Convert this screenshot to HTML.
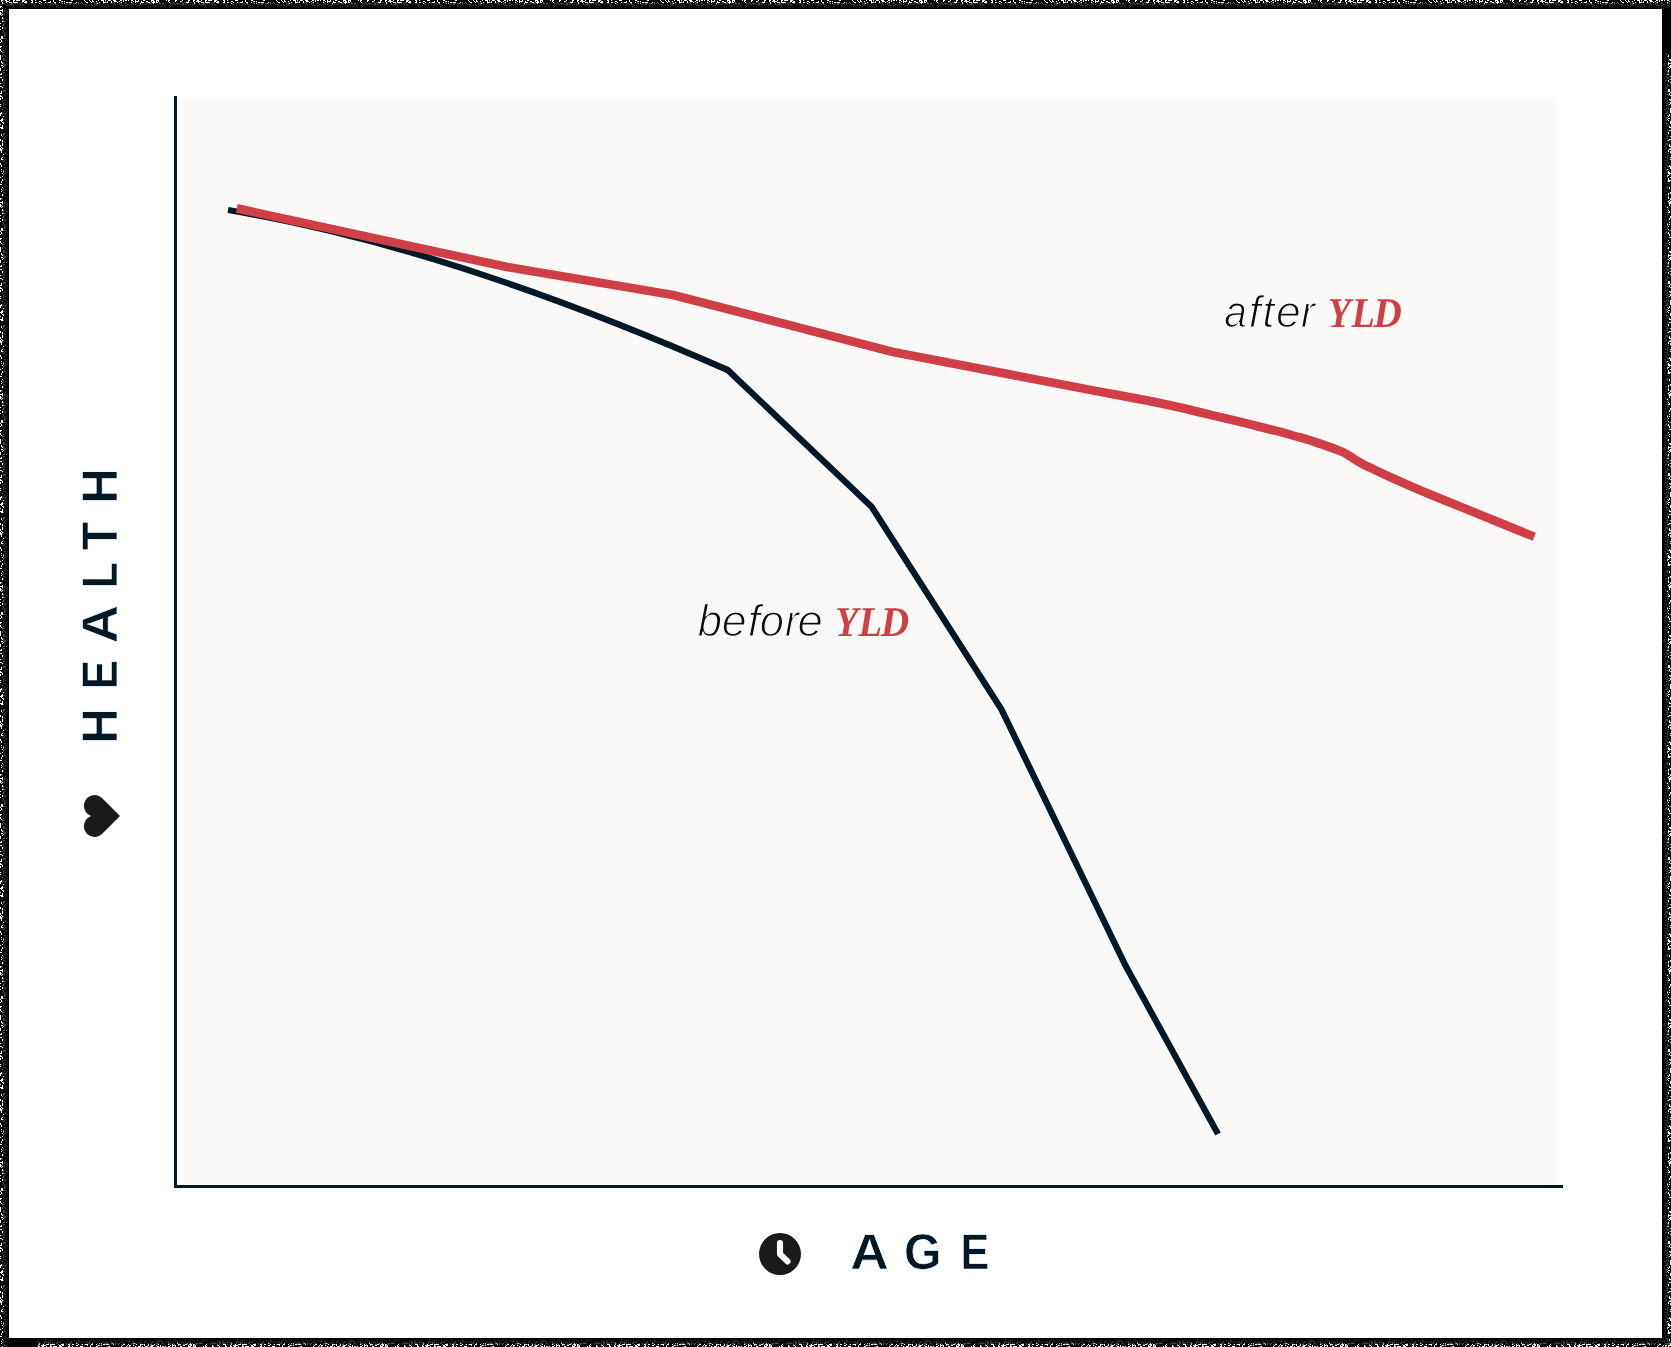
<!DOCTYPE html>
<html>
<head>
<meta charset="utf-8">
<title>Health vs Age</title>
<style>
html,body{margin:0;padding:0;background:#fff;}
body{width:1671px;height:1347px;position:relative;overflow:hidden;font-family:"Liberation Sans",sans-serif;}
#chart{position:absolute;left:0;top:0;width:1671px;height:1347px;display:block;will-change:transform;}
#chart text{font-kerning:none;text-rendering:geometricPrecision;}
.title{font-family:"Liberation Sans",sans-serif;font-weight:700;font-size:50.27px;fill:#011826;stroke:#fff;stroke-width:0.6px;}
.lt{font-family:"Liberation Sans",sans-serif;font-style:italic;font-weight:400;font-size:44.6px;fill:#0b0b0b;stroke:#fbfaf9;stroke-width:1.2px;}
.yld{font-family:"Liberation Serif",serif;font-style:italic;font-weight:700;font-size:42.45px;fill:#d03e46;}
</style>
</head>
<body>
<svg id="chart" width="1671" height="1347" viewBox="0 0 1671 1347">
<defs><pattern id="nh" width="192" height="9" patternUnits="userSpaceOnUse"><rect x="1" y="0" width="2" height="1" fill="#fff"/><rect x="5" y="0" width="2" height="1" fill="#fff"/><rect x="9" y="0" width="1" height="1" fill="#fff"/><rect x="13" y="0" width="2" height="1" fill="#fff"/><rect x="16" y="0" width="2" height="1" fill="#fff"/><rect x="18" y="0" width="2" height="1" fill="#fff"/><rect x="22" y="0" width="3" height="1" fill="#fff"/><rect x="31" y="0" width="2" height="1" fill="#fff"/><rect x="35" y="0" width="1" height="1" fill="#fff"/><rect x="43" y="0" width="3" height="1" fill="#fff"/><rect x="53" y="0" width="1" height="1" fill="#fff"/><rect x="59" y="0" width="2" height="1" fill="#fff"/><rect x="71" y="0" width="2" height="1" fill="#fff"/><rect x="84" y="0" width="1" height="1" fill="#fff"/><rect x="89" y="0" width="1" height="1" fill="#fff"/><rect x="92" y="0" width="1" height="1" fill="#fff"/><rect x="98" y="0" width="1" height="1" fill="#fff"/><rect x="101" y="0" width="3" height="1" fill="#fff"/><rect x="105" y="0" width="1" height="1" fill="#fff"/><rect x="108" y="0" width="3" height="1" fill="#fff"/><rect x="113" y="0" width="3" height="1" fill="#fff"/><rect x="120" y="0" width="2" height="1" fill="#fff"/><rect x="123" y="0" width="1" height="1" fill="#fff"/><rect x="125" y="0" width="2" height="1" fill="#fff"/><rect x="128" y="0" width="1" height="1" fill="#fff"/><rect x="131" y="0" width="1" height="1" fill="#fff"/><rect x="132" y="0" width="1" height="1" fill="#fff"/><rect x="135" y="0" width="1" height="1" fill="#fff"/><rect x="138" y="0" width="1" height="1" fill="#fff"/><rect x="143" y="0" width="2" height="1" fill="#fff"/><rect x="151" y="0" width="3" height="1" fill="#fff"/><rect x="156" y="0" width="3" height="1" fill="#fff"/><rect x="166" y="0" width="1" height="1" fill="#fff"/><rect x="168" y="0" width="2" height="1" fill="#fff"/><rect x="175" y="0" width="2" height="1" fill="#fff"/><rect x="182" y="0" width="1" height="1" fill="#fff"/><rect x="188" y="0" width="2" height="1" fill="#fff"/><rect x="1" y="1" width="1" height="1" fill="#fff"/><rect x="4" y="1" width="3" height="1" fill="#fff"/><rect x="7" y="1" width="2" height="1" fill="#fff"/><rect x="13" y="1" width="1" height="1" fill="#fff"/><rect x="22" y="1" width="2" height="1" fill="#fff"/><rect x="25" y="1" width="2" height="1" fill="#fff"/><rect x="32" y="1" width="1" height="1" fill="#fff"/><rect x="39" y="1" width="2" height="1" fill="#fff"/><rect x="50" y="1" width="1" height="1" fill="#fff"/><rect x="53" y="1" width="1" height="1" fill="#fff"/><rect x="61" y="1" width="2" height="1" fill="#fff"/><rect x="64" y="1" width="1" height="1" fill="#fff"/><rect x="85" y="1" width="1" height="1" fill="#fff"/><rect x="90" y="1" width="1" height="1" fill="#fff"/><rect x="92" y="1" width="2" height="1" fill="#fff"/><rect x="96" y="1" width="1" height="1" fill="#fff"/><rect x="103" y="1" width="1" height="1" fill="#fff"/><rect x="107" y="1" width="1" height="1" fill="#fff"/><rect x="111" y="1" width="1" height="1" fill="#fff"/><rect x="114" y="1" width="3" height="1" fill="#fff"/><rect x="119" y="1" width="1" height="1" fill="#fff"/><rect x="123" y="1" width="1" height="1" fill="#fff"/><rect x="133" y="1" width="1" height="1" fill="#fff"/><rect x="135" y="1" width="1" height="1" fill="#fff"/><rect x="136" y="1" width="3" height="1" fill="#fff"/><rect x="141" y="1" width="1" height="1" fill="#fff"/><rect x="146" y="1" width="2" height="1" fill="#fff"/><rect x="151" y="1" width="1" height="1" fill="#fff"/><rect x="153" y="1" width="1" height="1" fill="#fff"/><rect x="154" y="1" width="1" height="1" fill="#fff"/><rect x="156" y="1" width="1" height="1" fill="#fff"/><rect x="158" y="1" width="1" height="1" fill="#fff"/><rect x="168" y="1" width="1" height="1" fill="#fff"/><rect x="175" y="1" width="1" height="1" fill="#fff"/><rect x="180" y="1" width="2" height="1" fill="#fff"/><rect x="188" y="1" width="1" height="1" fill="#fff"/><rect x="2" y="2" width="1" height="1" fill="#fff"/><rect x="6" y="2" width="1" height="1" fill="#fff"/><rect x="9" y="2" width="1" height="1" fill="#fff"/><rect x="10" y="2" width="2" height="1" fill="#fff"/><rect x="13" y="2" width="1" height="1" fill="#fff"/><rect x="14" y="2" width="2" height="1" fill="#fff"/><rect x="16" y="2" width="2" height="1" fill="#fff"/><rect x="24" y="2" width="3" height="1" fill="#fff"/><rect x="31" y="2" width="2" height="1" fill="#fff"/><rect x="35" y="2" width="2" height="1" fill="#fff"/><rect x="41" y="2" width="1" height="1" fill="#fff"/><rect x="45" y="2" width="1" height="1" fill="#fff"/><rect x="48" y="2" width="3" height="1" fill="#fff"/><rect x="54" y="2" width="2" height="1" fill="#fff"/><rect x="59" y="2" width="1" height="1" fill="#fff"/><rect x="66" y="2" width="2" height="1" fill="#fff"/><rect x="69" y="2" width="2" height="1" fill="#fff"/><rect x="71" y="2" width="1" height="1" fill="#fff"/><rect x="76" y="2" width="1" height="1" fill="#fff"/><rect x="86" y="2" width="2" height="1" fill="#fff"/><rect x="91" y="2" width="1" height="1" fill="#fff"/><rect x="99" y="2" width="1" height="1" fill="#fff"/><rect x="103" y="2" width="3" height="1" fill="#fff"/><rect x="107" y="2" width="1" height="1" fill="#fff"/><rect x="111" y="2" width="1" height="1" fill="#fff"/><rect x="117" y="2" width="1" height="1" fill="#fff"/><rect x="121" y="2" width="1" height="1" fill="#fff"/><rect x="131" y="2" width="1" height="1" fill="#fff"/><rect x="135" y="2" width="1" height="1" fill="#fff"/><rect x="141" y="2" width="3" height="1" fill="#fff"/><rect x="148" y="2" width="2" height="1" fill="#fff"/><rect x="152" y="2" width="3" height="1" fill="#fff"/><rect x="156" y="2" width="2" height="1" fill="#fff"/><rect x="169" y="2" width="1" height="1" fill="#fff"/><rect x="186" y="2" width="3" height="1" fill="#fff"/><rect x="2" y="3" width="1" height="1" fill="#bbb"/><rect x="39" y="3" width="1" height="1" fill="#fff"/><rect x="55" y="3" width="1" height="1" fill="#bbb"/><rect x="62" y="3" width="1" height="1" fill="#bbb"/><rect x="64" y="3" width="1" height="1" fill="#bbb"/><rect x="75" y="3" width="1" height="1" fill="#bbb"/><rect x="97" y="3" width="1" height="1" fill="#fff"/><rect x="140" y="3" width="1" height="1" fill="#fff"/><rect x="150" y="3" width="1" height="1" fill="#888"/><rect x="153" y="3" width="1" height="1" fill="#fff"/><rect x="163" y="3" width="1" height="1" fill="#888"/><rect x="21" y="2" width="1" height="1" fill="#555"/><rect x="22" y="2" width="1" height="1" fill="#555"/><rect x="38" y="2" width="1" height="1" fill="#444"/><rect x="47" y="2" width="1" height="1" fill="#555"/><rect x="61" y="2" width="1" height="1" fill="#444"/><rect x="64" y="2" width="1" height="1" fill="#555"/><rect x="68" y="2" width="1" height="1" fill="#555"/><rect x="78" y="2" width="1" height="1" fill="#555"/><rect x="81" y="2" width="1" height="1" fill="#555"/><rect x="84" y="2" width="1" height="1" fill="#555"/><rect x="94" y="2" width="1" height="1" fill="#444"/><rect x="96" y="2" width="1" height="1" fill="#444"/><rect x="106" y="2" width="1" height="1" fill="#555"/><rect x="113" y="2" width="1" height="1" fill="#555"/><rect x="114" y="2" width="1" height="1" fill="#555"/><rect x="118" y="2" width="1" height="1" fill="#444"/><rect x="120" y="2" width="1" height="1" fill="#444"/><rect x="125" y="2" width="1" height="1" fill="#444"/><rect x="132" y="2" width="1" height="1" fill="#444"/><rect x="137" y="2" width="1" height="1" fill="#555"/><rect x="145" y="2" width="1" height="1" fill="#444"/><rect x="146" y="2" width="1" height="1" fill="#555"/><rect x="147" y="2" width="1" height="1" fill="#555"/><rect x="151" y="2" width="1" height="1" fill="#555"/><rect x="159" y="2" width="1" height="1" fill="#555"/><rect x="173" y="2" width="1" height="1" fill="#555"/><rect x="180" y="2" width="1" height="1" fill="#444"/><rect x="182" y="2" width="1" height="1" fill="#444"/><rect x="184" y="2" width="1" height="1" fill="#444"/><rect x="190" y="2" width="1" height="1" fill="#555"/><rect x="191" y="2" width="1" height="1" fill="#444"/><rect x="3" y="3" width="1" height="1" fill="#3a3a3a"/><rect x="7" y="3" width="1" height="1" fill="#555"/><rect x="11" y="3" width="1" height="1" fill="#444"/><rect x="12" y="3" width="1" height="1" fill="#555"/><rect x="15" y="3" width="1" height="1" fill="#444"/><rect x="17" y="3" width="1" height="1" fill="#444"/><rect x="19" y="3" width="1" height="1" fill="#444"/><rect x="20" y="3" width="1" height="1" fill="#3a3a3a"/><rect x="25" y="3" width="1" height="1" fill="#444"/><rect x="26" y="3" width="1" height="1" fill="#555"/><rect x="29" y="3" width="1" height="1" fill="#444"/><rect x="31" y="3" width="1" height="1" fill="#444"/><rect x="32" y="3" width="1" height="1" fill="#3a3a3a"/><rect x="33" y="3" width="1" height="1" fill="#444"/><rect x="40" y="3" width="1" height="1" fill="#3a3a3a"/><rect x="44" y="3" width="1" height="1" fill="#444"/><rect x="49" y="3" width="1" height="1" fill="#3a3a3a"/><rect x="51" y="3" width="1" height="1" fill="#3a3a3a"/><rect x="52" y="3" width="1" height="1" fill="#3a3a3a"/><rect x="60" y="3" width="1" height="1" fill="#444"/><rect x="67" y="3" width="1" height="1" fill="#555"/><rect x="69" y="3" width="1" height="1" fill="#555"/><rect x="70" y="3" width="1" height="1" fill="#444"/><rect x="71" y="3" width="1" height="1" fill="#3a3a3a"/><rect x="73" y="3" width="1" height="1" fill="#3a3a3a"/><rect x="74" y="3" width="1" height="1" fill="#555"/><rect x="76" y="3" width="1" height="1" fill="#3a3a3a"/><rect x="78" y="3" width="1" height="1" fill="#555"/><rect x="80" y="3" width="1" height="1" fill="#555"/><rect x="82" y="3" width="1" height="1" fill="#555"/><rect x="86" y="3" width="1" height="1" fill="#555"/><rect x="87" y="3" width="1" height="1" fill="#3a3a3a"/><rect x="94" y="3" width="1" height="1" fill="#555"/><rect x="95" y="3" width="1" height="1" fill="#3a3a3a"/><rect x="96" y="3" width="1" height="1" fill="#555"/><rect x="98" y="3" width="1" height="1" fill="#555"/><rect x="100" y="3" width="1" height="1" fill="#3a3a3a"/><rect x="103" y="3" width="1" height="1" fill="#555"/><rect x="110" y="3" width="1" height="1" fill="#3a3a3a"/><rect x="111" y="3" width="1" height="1" fill="#3a3a3a"/><rect x="114" y="3" width="1" height="1" fill="#444"/><rect x="119" y="3" width="1" height="1" fill="#555"/><rect x="120" y="3" width="1" height="1" fill="#3a3a3a"/><rect x="121" y="3" width="1" height="1" fill="#444"/><rect x="125" y="3" width="1" height="1" fill="#555"/><rect x="126" y="3" width="1" height="1" fill="#3a3a3a"/><rect x="131" y="3" width="1" height="1" fill="#555"/><rect x="132" y="3" width="1" height="1" fill="#3a3a3a"/><rect x="133" y="3" width="1" height="1" fill="#444"/><rect x="136" y="3" width="1" height="1" fill="#555"/><rect x="142" y="3" width="1" height="1" fill="#3a3a3a"/><rect x="149" y="3" width="1" height="1" fill="#555"/><rect x="155" y="3" width="1" height="1" fill="#555"/><rect x="159" y="3" width="1" height="1" fill="#555"/><rect x="160" y="3" width="1" height="1" fill="#555"/><rect x="162" y="3" width="1" height="1" fill="#555"/><rect x="165" y="3" width="1" height="1" fill="#555"/><rect x="170" y="3" width="1" height="1" fill="#3a3a3a"/><rect x="172" y="3" width="1" height="1" fill="#3a3a3a"/><rect x="174" y="3" width="1" height="1" fill="#3a3a3a"/><rect x="176" y="3" width="1" height="1" fill="#555"/><rect x="177" y="3" width="1" height="1" fill="#555"/><rect x="178" y="3" width="1" height="1" fill="#3a3a3a"/><rect x="179" y="3" width="1" height="1" fill="#3a3a3a"/><rect x="182" y="3" width="1" height="1" fill="#3a3a3a"/><rect x="183" y="3" width="1" height="1" fill="#444"/><rect x="185" y="3" width="1" height="1" fill="#444"/><rect x="186" y="3" width="1" height="1" fill="#444"/><rect x="187" y="3" width="1" height="1" fill="#444"/><rect x="0" y="4" width="1" height="1" fill="#303030"/><rect x="1" y="4" width="1" height="1" fill="#3a3a3a"/><rect x="2" y="4" width="1" height="1" fill="#303030"/><rect x="7" y="4" width="1" height="1" fill="#4a4a4a"/><rect x="9" y="4" width="1" height="1" fill="#3a3a3a"/><rect x="10" y="4" width="1" height="1" fill="#4a4a4a"/><rect x="11" y="4" width="1" height="1" fill="#4a4a4a"/><rect x="12" y="4" width="1" height="1" fill="#3a3a3a"/><rect x="13" y="4" width="1" height="1" fill="#303030"/><rect x="15" y="4" width="1" height="1" fill="#3a3a3a"/><rect x="20" y="4" width="1" height="1" fill="#4a4a4a"/><rect x="22" y="4" width="1" height="1" fill="#4a4a4a"/><rect x="23" y="4" width="1" height="1" fill="#303030"/><rect x="28" y="4" width="1" height="1" fill="#3a3a3a"/><rect x="33" y="4" width="1" height="1" fill="#303030"/><rect x="34" y="4" width="1" height="1" fill="#4a4a4a"/><rect x="35" y="4" width="1" height="1" fill="#3a3a3a"/><rect x="40" y="4" width="1" height="1" fill="#3a3a3a"/><rect x="41" y="4" width="1" height="1" fill="#303030"/><rect x="47" y="4" width="1" height="1" fill="#3a3a3a"/><rect x="50" y="4" width="1" height="1" fill="#3a3a3a"/><rect x="52" y="4" width="1" height="1" fill="#4a4a4a"/><rect x="53" y="4" width="1" height="1" fill="#3a3a3a"/><rect x="57" y="4" width="1" height="1" fill="#303030"/><rect x="65" y="4" width="1" height="1" fill="#4a4a4a"/><rect x="66" y="4" width="1" height="1" fill="#303030"/><rect x="68" y="4" width="1" height="1" fill="#303030"/><rect x="69" y="4" width="1" height="1" fill="#3a3a3a"/><rect x="70" y="4" width="1" height="1" fill="#4a4a4a"/><rect x="74" y="4" width="1" height="1" fill="#303030"/><rect x="76" y="4" width="1" height="1" fill="#3a3a3a"/><rect x="78" y="4" width="1" height="1" fill="#3a3a3a"/><rect x="83" y="4" width="1" height="1" fill="#303030"/><rect x="85" y="4" width="1" height="1" fill="#4a4a4a"/><rect x="91" y="4" width="1" height="1" fill="#303030"/><rect x="96" y="4" width="1" height="1" fill="#4a4a4a"/><rect x="99" y="4" width="1" height="1" fill="#303030"/><rect x="102" y="4" width="1" height="1" fill="#3a3a3a"/><rect x="105" y="4" width="1" height="1" fill="#3a3a3a"/><rect x="107" y="4" width="1" height="1" fill="#3a3a3a"/><rect x="113" y="4" width="1" height="1" fill="#3a3a3a"/><rect x="115" y="4" width="1" height="1" fill="#3a3a3a"/><rect x="117" y="4" width="1" height="1" fill="#4a4a4a"/><rect x="119" y="4" width="1" height="1" fill="#303030"/><rect x="121" y="4" width="1" height="1" fill="#3a3a3a"/><rect x="128" y="4" width="1" height="1" fill="#303030"/><rect x="129" y="4" width="1" height="1" fill="#303030"/><rect x="131" y="4" width="1" height="1" fill="#303030"/><rect x="133" y="4" width="1" height="1" fill="#3a3a3a"/><rect x="135" y="4" width="1" height="1" fill="#4a4a4a"/><rect x="140" y="4" width="1" height="1" fill="#4a4a4a"/><rect x="141" y="4" width="1" height="1" fill="#3a3a3a"/><rect x="144" y="4" width="1" height="1" fill="#3a3a3a"/><rect x="146" y="4" width="1" height="1" fill="#4a4a4a"/><rect x="151" y="4" width="1" height="1" fill="#4a4a4a"/><rect x="157" y="4" width="1" height="1" fill="#303030"/><rect x="162" y="4" width="1" height="1" fill="#303030"/><rect x="164" y="4" width="1" height="1" fill="#3a3a3a"/><rect x="174" y="4" width="1" height="1" fill="#3a3a3a"/><rect x="175" y="4" width="1" height="1" fill="#3a3a3a"/><rect x="177" y="4" width="1" height="1" fill="#303030"/><rect x="180" y="4" width="1" height="1" fill="#3a3a3a"/><rect x="182" y="4" width="1" height="1" fill="#4a4a4a"/><rect x="183" y="4" width="1" height="1" fill="#4a4a4a"/><rect x="185" y="4" width="1" height="1" fill="#4a4a4a"/><rect x="188" y="4" width="1" height="1" fill="#3a3a3a"/><rect x="190" y="4" width="1" height="1" fill="#3a3a3a"/><rect x="0" y="5" width="1" height="1" fill="#262626"/><rect x="7" y="5" width="1" height="1" fill="#262626"/><rect x="8" y="5" width="1" height="1" fill="#3a3a3a"/><rect x="13" y="5" width="1" height="1" fill="#3a3a3a"/><rect x="20" y="5" width="1" height="1" fill="#3a3a3a"/><rect x="23" y="5" width="1" height="1" fill="#2c2c2c"/><rect x="31" y="5" width="1" height="1" fill="#262626"/><rect x="34" y="5" width="1" height="1" fill="#3a3a3a"/><rect x="42" y="5" width="1" height="1" fill="#262626"/><rect x="44" y="5" width="1" height="1" fill="#3a3a3a"/><rect x="50" y="5" width="1" height="1" fill="#2c2c2c"/><rect x="52" y="5" width="1" height="1" fill="#3a3a3a"/><rect x="58" y="5" width="1" height="1" fill="#262626"/><rect x="60" y="5" width="1" height="1" fill="#2c2c2c"/><rect x="68" y="5" width="1" height="1" fill="#262626"/><rect x="73" y="5" width="1" height="1" fill="#3a3a3a"/><rect x="74" y="5" width="1" height="1" fill="#2c2c2c"/><rect x="85" y="5" width="1" height="1" fill="#262626"/><rect x="88" y="5" width="1" height="1" fill="#262626"/><rect x="89" y="5" width="1" height="1" fill="#3a3a3a"/><rect x="91" y="5" width="1" height="1" fill="#262626"/><rect x="92" y="5" width="1" height="1" fill="#3a3a3a"/><rect x="95" y="5" width="1" height="1" fill="#2c2c2c"/><rect x="96" y="5" width="1" height="1" fill="#3a3a3a"/><rect x="101" y="5" width="1" height="1" fill="#262626"/><rect x="108" y="5" width="1" height="1" fill="#262626"/><rect x="115" y="5" width="1" height="1" fill="#262626"/><rect x="120" y="5" width="1" height="1" fill="#262626"/><rect x="121" y="5" width="1" height="1" fill="#3a3a3a"/><rect x="122" y="5" width="1" height="1" fill="#3a3a3a"/><rect x="123" y="5" width="1" height="1" fill="#3a3a3a"/><rect x="124" y="5" width="1" height="1" fill="#262626"/><rect x="125" y="5" width="1" height="1" fill="#262626"/><rect x="131" y="5" width="1" height="1" fill="#3a3a3a"/><rect x="138" y="5" width="1" height="1" fill="#3a3a3a"/><rect x="139" y="5" width="1" height="1" fill="#3a3a3a"/><rect x="153" y="5" width="1" height="1" fill="#3a3a3a"/><rect x="164" y="5" width="1" height="1" fill="#262626"/><rect x="181" y="5" width="1" height="1" fill="#2c2c2c"/><rect x="182" y="5" width="1" height="1" fill="#3a3a3a"/><rect x="186" y="5" width="1" height="1" fill="#3a3a3a"/><rect x="190" y="5" width="1" height="1" fill="#262626"/><rect x="2" y="6" width="1" height="1" fill="#1c1c1c"/><rect x="9" y="6" width="1" height="1" fill="#222"/><rect x="11" y="6" width="1" height="1" fill="#222"/><rect x="13" y="6" width="1" height="1" fill="#222"/><rect x="15" y="6" width="1" height="1" fill="#222"/><rect x="24" y="6" width="1" height="1" fill="#2c2c2c"/><rect x="25" y="6" width="1" height="1" fill="#1c1c1c"/><rect x="37" y="6" width="1" height="1" fill="#222"/><rect x="41" y="6" width="1" height="1" fill="#2c2c2c"/><rect x="42" y="6" width="1" height="1" fill="#1c1c1c"/><rect x="53" y="6" width="1" height="1" fill="#2c2c2c"/><rect x="56" y="6" width="1" height="1" fill="#2c2c2c"/><rect x="62" y="6" width="1" height="1" fill="#1c1c1c"/><rect x="66" y="6" width="1" height="1" fill="#222"/><rect x="73" y="6" width="1" height="1" fill="#2c2c2c"/><rect x="76" y="6" width="1" height="1" fill="#222"/><rect x="78" y="6" width="1" height="1" fill="#1c1c1c"/><rect x="81" y="6" width="1" height="1" fill="#1c1c1c"/><rect x="85" y="6" width="1" height="1" fill="#2c2c2c"/><rect x="87" y="6" width="1" height="1" fill="#2c2c2c"/><rect x="92" y="6" width="1" height="1" fill="#222"/><rect x="104" y="6" width="1" height="1" fill="#2c2c2c"/><rect x="105" y="6" width="1" height="1" fill="#1c1c1c"/><rect x="108" y="6" width="1" height="1" fill="#222"/><rect x="112" y="6" width="1" height="1" fill="#2c2c2c"/><rect x="118" y="6" width="1" height="1" fill="#2c2c2c"/><rect x="120" y="6" width="1" height="1" fill="#222"/><rect x="122" y="6" width="1" height="1" fill="#2c2c2c"/><rect x="125" y="6" width="1" height="1" fill="#222"/><rect x="130" y="6" width="1" height="1" fill="#222"/><rect x="132" y="6" width="1" height="1" fill="#1c1c1c"/><rect x="133" y="6" width="1" height="1" fill="#1c1c1c"/><rect x="137" y="6" width="1" height="1" fill="#2c2c2c"/><rect x="145" y="6" width="1" height="1" fill="#1c1c1c"/><rect x="147" y="6" width="1" height="1" fill="#1c1c1c"/><rect x="148" y="6" width="1" height="1" fill="#1c1c1c"/><rect x="150" y="6" width="1" height="1" fill="#2c2c2c"/><rect x="155" y="6" width="1" height="1" fill="#222"/><rect x="156" y="6" width="1" height="1" fill="#1c1c1c"/><rect x="157" y="6" width="1" height="1" fill="#2c2c2c"/><rect x="160" y="6" width="1" height="1" fill="#1c1c1c"/><rect x="161" y="6" width="1" height="1" fill="#2c2c2c"/><rect x="165" y="6" width="1" height="1" fill="#2c2c2c"/><rect x="170" y="6" width="1" height="1" fill="#2c2c2c"/><rect x="180" y="6" width="1" height="1" fill="#222"/><rect x="185" y="6" width="1" height="1" fill="#222"/><rect x="186" y="6" width="1" height="1" fill="#1c1c1c"/><rect x="189" y="6" width="1" height="1" fill="#1c1c1c"/><rect x="0" y="7" width="1" height="1" fill="#161616"/><rect x="8" y="7" width="1" height="1" fill="#1c1c1c"/><rect x="14" y="7" width="1" height="1" fill="#1c1c1c"/><rect x="20" y="7" width="1" height="1" fill="#1c1c1c"/><rect x="30" y="7" width="1" height="1" fill="#1c1c1c"/><rect x="31" y="7" width="1" height="1" fill="#1c1c1c"/><rect x="45" y="7" width="1" height="1" fill="#161616"/><rect x="49" y="7" width="1" height="1" fill="#1c1c1c"/><rect x="60" y="7" width="1" height="1" fill="#1c1c1c"/><rect x="68" y="7" width="1" height="1" fill="#161616"/><rect x="76" y="7" width="1" height="1" fill="#1c1c1c"/><rect x="77" y="7" width="1" height="1" fill="#161616"/><rect x="82" y="7" width="1" height="1" fill="#1c1c1c"/><rect x="104" y="7" width="1" height="1" fill="#161616"/><rect x="121" y="7" width="1" height="1" fill="#161616"/><rect x="129" y="7" width="1" height="1" fill="#1c1c1c"/><rect x="131" y="7" width="1" height="1" fill="#161616"/><rect x="133" y="7" width="1" height="1" fill="#161616"/><rect x="148" y="7" width="1" height="1" fill="#161616"/><rect x="173" y="7" width="1" height="1" fill="#161616"/><rect x="190" y="7" width="1" height="1" fill="#161616"/></pattern><pattern id="nv" width="9" height="192" patternUnits="userSpaceOnUse"><rect x="0" y="6" width="1" height="2" fill="#fff"/><rect x="0" y="10" width="1" height="1" fill="#fff"/><rect x="0" y="12" width="1" height="3" fill="#fff"/><rect x="0" y="23" width="1" height="1" fill="#fff"/><rect x="0" y="26" width="1" height="1" fill="#fff"/><rect x="0" y="29" width="1" height="1" fill="#fff"/><rect x="0" y="39" width="1" height="1" fill="#fff"/><rect x="0" y="42" width="1" height="1" fill="#fff"/><rect x="0" y="46" width="1" height="1" fill="#fff"/><rect x="0" y="47" width="1" height="1" fill="#fff"/><rect x="0" y="49" width="1" height="2" fill="#fff"/><rect x="0" y="55" width="1" height="1" fill="#fff"/><rect x="0" y="56" width="1" height="1" fill="#fff"/><rect x="0" y="57" width="1" height="1" fill="#fff"/><rect x="0" y="58" width="1" height="2" fill="#fff"/><rect x="0" y="68" width="1" height="3" fill="#fff"/><rect x="0" y="74" width="1" height="1" fill="#fff"/><rect x="0" y="77" width="1" height="1" fill="#fff"/><rect x="0" y="83" width="1" height="1" fill="#fff"/><rect x="0" y="86" width="1" height="1" fill="#fff"/><rect x="0" y="93" width="1" height="1" fill="#fff"/><rect x="0" y="95" width="1" height="2" fill="#fff"/><rect x="0" y="98" width="1" height="2" fill="#fff"/><rect x="0" y="104" width="1" height="1" fill="#fff"/><rect x="0" y="106" width="1" height="1" fill="#fff"/><rect x="0" y="113" width="1" height="2" fill="#fff"/><rect x="0" y="115" width="1" height="1" fill="#fff"/><rect x="0" y="120" width="1" height="1" fill="#fff"/><rect x="0" y="124" width="1" height="1" fill="#fff"/><rect x="0" y="127" width="1" height="1" fill="#fff"/><rect x="0" y="139" width="1" height="2" fill="#fff"/><rect x="0" y="145" width="1" height="2" fill="#fff"/><rect x="0" y="148" width="1" height="2" fill="#fff"/><rect x="0" y="150" width="1" height="1" fill="#fff"/><rect x="0" y="163" width="1" height="2" fill="#fff"/><rect x="0" y="177" width="1" height="1" fill="#fff"/><rect x="0" y="184" width="1" height="1" fill="#fff"/><rect x="1" y="6" width="1" height="1" fill="#fff"/><rect x="1" y="10" width="1" height="1" fill="#fff"/><rect x="1" y="13" width="1" height="1" fill="#fff"/><rect x="1" y="15" width="1" height="1" fill="#fff"/><rect x="1" y="36" width="1" height="3" fill="#fff"/><rect x="1" y="40" width="1" height="1" fill="#fff"/><rect x="1" y="41" width="1" height="1" fill="#fff"/><rect x="1" y="46" width="1" height="1" fill="#fff"/><rect x="1" y="51" width="1" height="1" fill="#fff"/><rect x="1" y="61" width="1" height="2" fill="#fff"/><rect x="1" y="65" width="1" height="1" fill="#fff"/><rect x="1" y="73" width="1" height="2" fill="#fff"/><rect x="1" y="77" width="1" height="1" fill="#fff"/><rect x="1" y="86" width="1" height="1" fill="#fff"/><rect x="1" y="91" width="1" height="3" fill="#fff"/><rect x="1" y="96" width="1" height="1" fill="#fff"/><rect x="1" y="112" width="1" height="2" fill="#fff"/><rect x="1" y="119" width="1" height="3" fill="#fff"/><rect x="1" y="127" width="1" height="1" fill="#fff"/><rect x="1" y="128" width="1" height="1" fill="#fff"/><rect x="1" y="134" width="1" height="2" fill="#fff"/><rect x="1" y="147" width="1" height="1" fill="#fff"/><rect x="1" y="149" width="1" height="3" fill="#fff"/><rect x="1" y="152" width="1" height="1" fill="#fff"/><rect x="1" y="158" width="1" height="2" fill="#fff"/><rect x="1" y="165" width="1" height="2" fill="#fff"/><rect x="1" y="169" width="1" height="1" fill="#fff"/><rect x="1" y="171" width="1" height="1" fill="#fff"/><rect x="1" y="181" width="1" height="1" fill="#fff"/><rect x="1" y="182" width="1" height="1" fill="#fff"/><rect x="1" y="184" width="1" height="1" fill="#fff"/><rect x="1" y="189" width="1" height="1" fill="#fff"/><rect x="1" y="191" width="1" height="1" fill="#fff"/><rect x="2" y="2" width="1" height="2" fill="#fff"/><rect x="2" y="9" width="1" height="3" fill="#fff"/><rect x="2" y="14" width="1" height="1" fill="#fff"/><rect x="2" y="17" width="1" height="1" fill="#fff"/><rect x="2" y="18" width="1" height="1" fill="#fff"/><rect x="2" y="21" width="1" height="1" fill="#fff"/><rect x="2" y="27" width="1" height="2" fill="#fff"/><rect x="2" y="36" width="1" height="3" fill="#fff"/><rect x="2" y="63" width="1" height="1" fill="#fff"/><rect x="2" y="65" width="1" height="1" fill="#fff"/><rect x="2" y="67" width="1" height="1" fill="#fff"/><rect x="2" y="79" width="1" height="2" fill="#fff"/><rect x="2" y="87" width="1" height="1" fill="#fff"/><rect x="2" y="97" width="1" height="2" fill="#fff"/><rect x="2" y="118" width="1" height="3" fill="#fff"/><rect x="2" y="122" width="1" height="1" fill="#fff"/><rect x="2" y="125" width="1" height="1" fill="#fff"/><rect x="2" y="126" width="1" height="2" fill="#fff"/><rect x="2" y="128" width="1" height="1" fill="#fff"/><rect x="2" y="140" width="1" height="2" fill="#fff"/><rect x="2" y="143" width="1" height="3" fill="#fff"/><rect x="2" y="148" width="1" height="1" fill="#fff"/><rect x="2" y="157" width="1" height="1" fill="#fff"/><rect x="2" y="159" width="1" height="1" fill="#fff"/><rect x="2" y="173" width="1" height="1" fill="#fff"/><rect x="2" y="176" width="1" height="1" fill="#fff"/><rect x="2" y="179" width="1" height="1" fill="#fff"/><rect x="2" y="180" width="1" height="1" fill="#fff"/><rect x="2" y="187" width="1" height="1" fill="#fff"/><rect x="3" y="21" width="1" height="1" fill="#bbb"/><rect x="3" y="62" width="1" height="1" fill="#888"/><rect x="3" y="66" width="1" height="1" fill="#bbb"/><rect x="3" y="116" width="1" height="1" fill="#bbb"/><rect x="3" y="122" width="1" height="1" fill="#bbb"/><rect x="3" y="123" width="1" height="1" fill="#fff"/><rect x="3" y="154" width="1" height="1" fill="#fff"/><rect x="3" y="170" width="1" height="1" fill="#888"/><rect x="3" y="171" width="1" height="1" fill="#fff"/><rect x="2" y="4" width="1" height="1" fill="#444"/><rect x="2" y="7" width="1" height="1" fill="#555"/><rect x="2" y="12" width="1" height="1" fill="#444"/><rect x="2" y="19" width="1" height="1" fill="#444"/><rect x="2" y="20" width="1" height="1" fill="#444"/><rect x="2" y="25" width="1" height="1" fill="#555"/><rect x="2" y="32" width="1" height="1" fill="#444"/><rect x="2" y="41" width="1" height="1" fill="#555"/><rect x="2" y="42" width="1" height="1" fill="#555"/><rect x="2" y="49" width="1" height="1" fill="#555"/><rect x="2" y="51" width="1" height="1" fill="#555"/><rect x="2" y="52" width="1" height="1" fill="#444"/><rect x="2" y="53" width="1" height="1" fill="#444"/><rect x="2" y="55" width="1" height="1" fill="#555"/><rect x="2" y="56" width="1" height="1" fill="#555"/><rect x="2" y="62" width="1" height="1" fill="#555"/><rect x="2" y="71" width="1" height="1" fill="#444"/><rect x="2" y="81" width="1" height="1" fill="#444"/><rect x="2" y="83" width="1" height="1" fill="#444"/><rect x="2" y="88" width="1" height="1" fill="#555"/><rect x="2" y="96" width="1" height="1" fill="#555"/><rect x="2" y="100" width="1" height="1" fill="#555"/><rect x="2" y="102" width="1" height="1" fill="#444"/><rect x="2" y="109" width="1" height="1" fill="#555"/><rect x="2" y="113" width="1" height="1" fill="#444"/><rect x="2" y="114" width="1" height="1" fill="#444"/><rect x="2" y="116" width="1" height="1" fill="#555"/><rect x="2" y="130" width="1" height="1" fill="#555"/><rect x="2" y="136" width="1" height="1" fill="#444"/><rect x="2" y="142" width="1" height="1" fill="#444"/><rect x="2" y="147" width="1" height="1" fill="#444"/><rect x="2" y="149" width="1" height="1" fill="#444"/><rect x="2" y="150" width="1" height="1" fill="#555"/><rect x="2" y="155" width="1" height="1" fill="#555"/><rect x="2" y="160" width="1" height="1" fill="#444"/><rect x="2" y="183" width="1" height="1" fill="#444"/><rect x="2" y="190" width="1" height="1" fill="#555"/><rect x="3" y="0" width="1" height="1" fill="#444"/><rect x="3" y="3" width="1" height="1" fill="#555"/><rect x="3" y="14" width="1" height="1" fill="#3a3a3a"/><rect x="3" y="18" width="1" height="1" fill="#555"/><rect x="3" y="19" width="1" height="1" fill="#3a3a3a"/><rect x="3" y="23" width="1" height="1" fill="#3a3a3a"/><rect x="3" y="24" width="1" height="1" fill="#444"/><rect x="3" y="25" width="1" height="1" fill="#444"/><rect x="3" y="31" width="1" height="1" fill="#555"/><rect x="3" y="33" width="1" height="1" fill="#444"/><rect x="3" y="38" width="1" height="1" fill="#444"/><rect x="3" y="41" width="1" height="1" fill="#444"/><rect x="3" y="45" width="1" height="1" fill="#3a3a3a"/><rect x="3" y="47" width="1" height="1" fill="#3a3a3a"/><rect x="3" y="48" width="1" height="1" fill="#555"/><rect x="3" y="50" width="1" height="1" fill="#444"/><rect x="3" y="52" width="1" height="1" fill="#444"/><rect x="3" y="54" width="1" height="1" fill="#3a3a3a"/><rect x="3" y="58" width="1" height="1" fill="#444"/><rect x="3" y="59" width="1" height="1" fill="#3a3a3a"/><rect x="3" y="60" width="1" height="1" fill="#555"/><rect x="3" y="64" width="1" height="1" fill="#444"/><rect x="3" y="70" width="1" height="1" fill="#444"/><rect x="3" y="72" width="1" height="1" fill="#555"/><rect x="3" y="73" width="1" height="1" fill="#3a3a3a"/><rect x="3" y="76" width="1" height="1" fill="#3a3a3a"/><rect x="3" y="77" width="1" height="1" fill="#555"/><rect x="3" y="78" width="1" height="1" fill="#3a3a3a"/><rect x="3" y="79" width="1" height="1" fill="#444"/><rect x="3" y="82" width="1" height="1" fill="#555"/><rect x="3" y="83" width="1" height="1" fill="#444"/><rect x="3" y="85" width="1" height="1" fill="#555"/><rect x="3" y="87" width="1" height="1" fill="#444"/><rect x="3" y="90" width="1" height="1" fill="#444"/><rect x="3" y="91" width="1" height="1" fill="#555"/><rect x="3" y="103" width="1" height="1" fill="#555"/><rect x="3" y="104" width="1" height="1" fill="#444"/><rect x="3" y="105" width="1" height="1" fill="#444"/><rect x="3" y="107" width="1" height="1" fill="#3a3a3a"/><rect x="3" y="109" width="1" height="1" fill="#444"/><rect x="3" y="113" width="1" height="1" fill="#555"/><rect x="3" y="119" width="1" height="1" fill="#555"/><rect x="3" y="128" width="1" height="1" fill="#555"/><rect x="3" y="133" width="1" height="1" fill="#555"/><rect x="3" y="134" width="1" height="1" fill="#444"/><rect x="3" y="135" width="1" height="1" fill="#444"/><rect x="3" y="144" width="1" height="1" fill="#444"/><rect x="3" y="148" width="1" height="1" fill="#444"/><rect x="3" y="153" width="1" height="1" fill="#3a3a3a"/><rect x="3" y="156" width="1" height="1" fill="#444"/><rect x="3" y="159" width="1" height="1" fill="#444"/><rect x="3" y="161" width="1" height="1" fill="#444"/><rect x="3" y="172" width="1" height="1" fill="#555"/><rect x="3" y="174" width="1" height="1" fill="#444"/><rect x="3" y="175" width="1" height="1" fill="#555"/><rect x="3" y="180" width="1" height="1" fill="#444"/><rect x="3" y="188" width="1" height="1" fill="#444"/><rect x="3" y="190" width="1" height="1" fill="#444"/><rect x="4" y="0" width="1" height="1" fill="#3a3a3a"/><rect x="4" y="1" width="1" height="1" fill="#303030"/><rect x="4" y="10" width="1" height="1" fill="#3a3a3a"/><rect x="4" y="11" width="1" height="1" fill="#3a3a3a"/><rect x="4" y="13" width="1" height="1" fill="#3a3a3a"/><rect x="4" y="15" width="1" height="1" fill="#4a4a4a"/><rect x="4" y="21" width="1" height="1" fill="#4a4a4a"/><rect x="4" y="23" width="1" height="1" fill="#3a3a3a"/><rect x="4" y="24" width="1" height="1" fill="#4a4a4a"/><rect x="4" y="27" width="1" height="1" fill="#3a3a3a"/><rect x="4" y="32" width="1" height="1" fill="#303030"/><rect x="4" y="34" width="1" height="1" fill="#303030"/><rect x="4" y="35" width="1" height="1" fill="#4a4a4a"/><rect x="4" y="36" width="1" height="1" fill="#303030"/><rect x="4" y="38" width="1" height="1" fill="#3a3a3a"/><rect x="4" y="44" width="1" height="1" fill="#3a3a3a"/><rect x="4" y="46" width="1" height="1" fill="#4a4a4a"/><rect x="4" y="50" width="1" height="1" fill="#303030"/><rect x="4" y="52" width="1" height="1" fill="#3a3a3a"/><rect x="4" y="55" width="1" height="1" fill="#4a4a4a"/><rect x="4" y="58" width="1" height="1" fill="#303030"/><rect x="4" y="59" width="1" height="1" fill="#303030"/><rect x="4" y="60" width="1" height="1" fill="#4a4a4a"/><rect x="4" y="63" width="1" height="1" fill="#3a3a3a"/><rect x="4" y="64" width="1" height="1" fill="#303030"/><rect x="4" y="65" width="1" height="1" fill="#3a3a3a"/><rect x="4" y="66" width="1" height="1" fill="#3a3a3a"/><rect x="4" y="67" width="1" height="1" fill="#3a3a3a"/><rect x="4" y="69" width="1" height="1" fill="#303030"/><rect x="4" y="70" width="1" height="1" fill="#4a4a4a"/><rect x="4" y="72" width="1" height="1" fill="#4a4a4a"/><rect x="4" y="80" width="1" height="1" fill="#303030"/><rect x="4" y="81" width="1" height="1" fill="#4a4a4a"/><rect x="4" y="83" width="1" height="1" fill="#4a4a4a"/><rect x="4" y="85" width="1" height="1" fill="#3a3a3a"/><rect x="4" y="90" width="1" height="1" fill="#4a4a4a"/><rect x="4" y="91" width="1" height="1" fill="#3a3a3a"/><rect x="4" y="94" width="1" height="1" fill="#303030"/><rect x="4" y="100" width="1" height="1" fill="#303030"/><rect x="4" y="107" width="1" height="1" fill="#3a3a3a"/><rect x="4" y="111" width="1" height="1" fill="#4a4a4a"/><rect x="4" y="113" width="1" height="1" fill="#3a3a3a"/><rect x="4" y="116" width="1" height="1" fill="#4a4a4a"/><rect x="4" y="117" width="1" height="1" fill="#3a3a3a"/><rect x="4" y="119" width="1" height="1" fill="#4a4a4a"/><rect x="4" y="122" width="1" height="1" fill="#303030"/><rect x="4" y="133" width="1" height="1" fill="#303030"/><rect x="4" y="134" width="1" height="1" fill="#3a3a3a"/><rect x="4" y="138" width="1" height="1" fill="#303030"/><rect x="4" y="141" width="1" height="1" fill="#3a3a3a"/><rect x="4" y="142" width="1" height="1" fill="#303030"/><rect x="4" y="154" width="1" height="1" fill="#3a3a3a"/><rect x="4" y="157" width="1" height="1" fill="#303030"/><rect x="4" y="160" width="1" height="1" fill="#3a3a3a"/><rect x="4" y="164" width="1" height="1" fill="#303030"/><rect x="4" y="165" width="1" height="1" fill="#303030"/><rect x="4" y="167" width="1" height="1" fill="#4a4a4a"/><rect x="4" y="176" width="1" height="1" fill="#3a3a3a"/><rect x="4" y="178" width="1" height="1" fill="#303030"/><rect x="4" y="179" width="1" height="1" fill="#4a4a4a"/><rect x="4" y="184" width="1" height="1" fill="#3a3a3a"/><rect x="4" y="190" width="1" height="1" fill="#303030"/><rect x="5" y="1" width="1" height="1" fill="#2c2c2c"/><rect x="5" y="4" width="1" height="1" fill="#2c2c2c"/><rect x="5" y="8" width="1" height="1" fill="#3a3a3a"/><rect x="5" y="21" width="1" height="1" fill="#3a3a3a"/><rect x="5" y="27" width="1" height="1" fill="#3a3a3a"/><rect x="5" y="28" width="1" height="1" fill="#262626"/><rect x="5" y="29" width="1" height="1" fill="#262626"/><rect x="5" y="32" width="1" height="1" fill="#3a3a3a"/><rect x="5" y="34" width="1" height="1" fill="#3a3a3a"/><rect x="5" y="35" width="1" height="1" fill="#3a3a3a"/><rect x="5" y="38" width="1" height="1" fill="#3a3a3a"/><rect x="5" y="40" width="1" height="1" fill="#3a3a3a"/><rect x="5" y="43" width="1" height="1" fill="#2c2c2c"/><rect x="5" y="46" width="1" height="1" fill="#262626"/><rect x="5" y="49" width="1" height="1" fill="#3a3a3a"/><rect x="5" y="56" width="1" height="1" fill="#3a3a3a"/><rect x="5" y="60" width="1" height="1" fill="#3a3a3a"/><rect x="5" y="64" width="1" height="1" fill="#3a3a3a"/><rect x="5" y="65" width="1" height="1" fill="#2c2c2c"/><rect x="5" y="66" width="1" height="1" fill="#262626"/><rect x="5" y="67" width="1" height="1" fill="#3a3a3a"/><rect x="5" y="75" width="1" height="1" fill="#2c2c2c"/><rect x="5" y="78" width="1" height="1" fill="#262626"/><rect x="5" y="79" width="1" height="1" fill="#262626"/><rect x="5" y="80" width="1" height="1" fill="#2c2c2c"/><rect x="5" y="88" width="1" height="1" fill="#262626"/><rect x="5" y="90" width="1" height="1" fill="#2c2c2c"/><rect x="5" y="91" width="1" height="1" fill="#3a3a3a"/><rect x="5" y="92" width="1" height="1" fill="#262626"/><rect x="5" y="93" width="1" height="1" fill="#2c2c2c"/><rect x="5" y="95" width="1" height="1" fill="#3a3a3a"/><rect x="5" y="96" width="1" height="1" fill="#2c2c2c"/><rect x="5" y="99" width="1" height="1" fill="#262626"/><rect x="5" y="100" width="1" height="1" fill="#3a3a3a"/><rect x="5" y="104" width="1" height="1" fill="#3a3a3a"/><rect x="5" y="107" width="1" height="1" fill="#2c2c2c"/><rect x="5" y="110" width="1" height="1" fill="#2c2c2c"/><rect x="5" y="114" width="1" height="1" fill="#2c2c2c"/><rect x="5" y="117" width="1" height="1" fill="#2c2c2c"/><rect x="5" y="119" width="1" height="1" fill="#262626"/><rect x="5" y="123" width="1" height="1" fill="#262626"/><rect x="5" y="130" width="1" height="1" fill="#262626"/><rect x="5" y="136" width="1" height="1" fill="#262626"/><rect x="5" y="138" width="1" height="1" fill="#3a3a3a"/><rect x="5" y="142" width="1" height="1" fill="#3a3a3a"/><rect x="5" y="144" width="1" height="1" fill="#2c2c2c"/><rect x="5" y="146" width="1" height="1" fill="#262626"/><rect x="5" y="152" width="1" height="1" fill="#2c2c2c"/><rect x="5" y="153" width="1" height="1" fill="#3a3a3a"/><rect x="5" y="161" width="1" height="1" fill="#3a3a3a"/><rect x="5" y="163" width="1" height="1" fill="#2c2c2c"/><rect x="5" y="167" width="1" height="1" fill="#2c2c2c"/><rect x="5" y="169" width="1" height="1" fill="#3a3a3a"/><rect x="5" y="173" width="1" height="1" fill="#2c2c2c"/><rect x="5" y="179" width="1" height="1" fill="#2c2c2c"/><rect x="5" y="180" width="1" height="1" fill="#2c2c2c"/><rect x="5" y="181" width="1" height="1" fill="#2c2c2c"/><rect x="5" y="183" width="1" height="1" fill="#2c2c2c"/><rect x="5" y="184" width="1" height="1" fill="#3a3a3a"/><rect x="5" y="186" width="1" height="1" fill="#262626"/><rect x="5" y="189" width="1" height="1" fill="#262626"/><rect x="5" y="190" width="1" height="1" fill="#262626"/><rect x="6" y="10" width="1" height="1" fill="#2c2c2c"/><rect x="6" y="11" width="1" height="1" fill="#2c2c2c"/><rect x="6" y="12" width="1" height="1" fill="#1c1c1c"/><rect x="6" y="14" width="1" height="1" fill="#2c2c2c"/><rect x="6" y="19" width="1" height="1" fill="#2c2c2c"/><rect x="6" y="25" width="1" height="1" fill="#1c1c1c"/><rect x="6" y="30" width="1" height="1" fill="#2c2c2c"/><rect x="6" y="47" width="1" height="1" fill="#222"/><rect x="6" y="53" width="1" height="1" fill="#1c1c1c"/><rect x="6" y="56" width="1" height="1" fill="#222"/><rect x="6" y="59" width="1" height="1" fill="#1c1c1c"/><rect x="6" y="60" width="1" height="1" fill="#1c1c1c"/><rect x="6" y="61" width="1" height="1" fill="#2c2c2c"/><rect x="6" y="62" width="1" height="1" fill="#222"/><rect x="6" y="63" width="1" height="1" fill="#2c2c2c"/><rect x="6" y="69" width="1" height="1" fill="#1c1c1c"/><rect x="6" y="70" width="1" height="1" fill="#2c2c2c"/><rect x="6" y="84" width="1" height="1" fill="#222"/><rect x="6" y="93" width="1" height="1" fill="#2c2c2c"/><rect x="6" y="94" width="1" height="1" fill="#1c1c1c"/><rect x="6" y="103" width="1" height="1" fill="#222"/><rect x="6" y="107" width="1" height="1" fill="#222"/><rect x="6" y="112" width="1" height="1" fill="#1c1c1c"/><rect x="6" y="114" width="1" height="1" fill="#2c2c2c"/><rect x="6" y="115" width="1" height="1" fill="#2c2c2c"/><rect x="6" y="124" width="1" height="1" fill="#2c2c2c"/><rect x="6" y="127" width="1" height="1" fill="#1c1c1c"/><rect x="6" y="128" width="1" height="1" fill="#1c1c1c"/><rect x="6" y="135" width="1" height="1" fill="#2c2c2c"/><rect x="6" y="137" width="1" height="1" fill="#1c1c1c"/><rect x="6" y="139" width="1" height="1" fill="#1c1c1c"/><rect x="6" y="149" width="1" height="1" fill="#1c1c1c"/><rect x="6" y="150" width="1" height="1" fill="#222"/><rect x="6" y="169" width="1" height="1" fill="#1c1c1c"/><rect x="6" y="170" width="1" height="1" fill="#1c1c1c"/><rect x="6" y="176" width="1" height="1" fill="#222"/><rect x="6" y="181" width="1" height="1" fill="#222"/><rect x="6" y="183" width="1" height="1" fill="#1c1c1c"/><rect x="7" y="4" width="1" height="1" fill="#1c1c1c"/><rect x="7" y="11" width="1" height="1" fill="#1c1c1c"/><rect x="7" y="12" width="1" height="1" fill="#1c1c1c"/><rect x="7" y="19" width="1" height="1" fill="#161616"/><rect x="7" y="20" width="1" height="1" fill="#1c1c1c"/><rect x="7" y="24" width="1" height="1" fill="#1c1c1c"/><rect x="7" y="26" width="1" height="1" fill="#161616"/><rect x="7" y="31" width="1" height="1" fill="#1c1c1c"/><rect x="7" y="40" width="1" height="1" fill="#1c1c1c"/><rect x="7" y="51" width="1" height="1" fill="#161616"/><rect x="7" y="57" width="1" height="1" fill="#161616"/><rect x="7" y="70" width="1" height="1" fill="#1c1c1c"/><rect x="7" y="82" width="1" height="1" fill="#161616"/><rect x="7" y="88" width="1" height="1" fill="#161616"/><rect x="7" y="103" width="1" height="1" fill="#161616"/><rect x="7" y="111" width="1" height="1" fill="#1c1c1c"/><rect x="7" y="130" width="1" height="1" fill="#161616"/><rect x="7" y="135" width="1" height="1" fill="#1c1c1c"/><rect x="7" y="151" width="1" height="1" fill="#161616"/><rect x="7" y="162" width="1" height="1" fill="#1c1c1c"/><rect x="7" y="167" width="1" height="1" fill="#1c1c1c"/><rect x="7" y="184" width="1" height="1" fill="#161616"/></pattern></defs>
<!-- outer frame -->
<rect x="0" y="0" width="1671" height="1347" fill="#000"/>
<g shape-rendering="crispEdges">
<rect x="0" y="0" width="1671" height="9" fill="url(#nh)"/>
<rect x="0" y="0" width="1671" height="9" fill="url(#nh)" transform="translate(37,1347) scale(1,-1)"/>
<rect x="0" y="0" width="9" height="1347" fill="url(#nv)"/>
<rect x="0" y="0" width="9" height="1347" fill="url(#nv)" transform="translate(1671,53) scale(-1,1)"/>
</g>
<rect x="9" y="9" width="1653" height="1329" fill="#fff"/>
<!-- plot area -->
<rect x="178" y="99" width="1379" height="1085" fill="#fbfaf9"/>
<!-- axes -->
<rect x="174" y="96" width="3" height="1092" fill="#011826"/>
<rect x="174" y="1185" width="1389" height="3" fill="#011826"/>
<!-- before curve -->
<path id="before" d="M228,210 C409.2,239.9 596.6,312.3 727.7,370 L871.8,507 L1001.4,709.3 L1125.5,965.5 L1218,1134" fill="none" stroke="#011826" stroke-width="6.3" stroke-linejoin="miter"/>
<!-- after curve -->
<path id="after" d="M236.8,208.4 L507,267 L673,295 L893,352 L1100,391.7 C1110.0,393.6 1140.4,399.0 1160.0,403.1 C1179.6,407.2 1198.3,411.8 1217.5,416.4 C1236.7,421.0 1262.0,427.3 1274.9,430.6 C1287.8,433.9 1288.3,434.2 1295.0,436.1 C1301.7,438.0 1307.5,439.5 1315.0,442.0 C1322.5,444.5 1334.7,448.8 1340.3,451.0 C1345.9,453.2 1345.8,453.8 1348.6,455.4 C1351.4,457.0 1354.2,459.1 1357.0,460.8 C1359.8,462.5 1362.6,464.1 1365.4,465.5 C1368.2,466.9 1369.6,467.4 1373.8,469.4 C1378.0,471.3 1381.1,473.0 1390.5,477.2 C1399.9,481.4 1414.8,488.0 1430.0,494.4 C1445.2,500.7 1464.6,508.4 1482.0,515.5 C1499.4,522.6 1525.6,533.2 1534.3,536.8" fill="none" stroke="#d03e46" stroke-width="8.75" stroke-linejoin="round"/>
<!-- heart icon -->
<path id="heart" d="M120,816 L102.22,833.79 A10.73,10.73 0 1 1 91.3,816 A10.73,10.73 0 1 1 102.22,798.21 Z" fill="#1a1a1a"/>
<!-- clock icon -->
<g id="clock">
<circle cx="780" cy="1254" r="21" fill="#1a1a1a"/>
<path d="M780,1243.1 L780,1254 L787.5,1261.4" fill="none" stroke="#fff" stroke-width="6.1" stroke-linecap="round" stroke-linejoin="round"/>
</g>
<!-- axis titles -->
<text id="age" class="title" y="1269.30"><tspan x="850.27" textLength="38.54" lengthAdjust="spacingAndGlyphs">A</tspan><tspan x="904.12" textLength="37.46" lengthAdjust="spacingAndGlyphs">G</tspan><tspan x="960.60" textLength="28.89" lengthAdjust="spacingAndGlyphs">E</tspan></text>
<text id="health" class="title" transform="translate(117.30,740) rotate(-90)" y="0"><tspan x="-3.55" textLength="35.13" lengthAdjust="spacingAndGlyphs">H</tspan><tspan x="50.77" textLength="29.25" lengthAdjust="spacingAndGlyphs">E</tspan><tspan x="96.68" textLength="38.32" lengthAdjust="spacingAndGlyphs">A</tspan><tspan x="151.88" textLength="25.71" lengthAdjust="spacingAndGlyphs">L</tspan><tspan x="189.67" textLength="28.63" lengthAdjust="spacingAndGlyphs">T</tspan><tspan x="236.45" textLength="35.13" lengthAdjust="spacingAndGlyphs">H</tspan></text>
<!-- series labels -->
<text id="l-after" y="326.9"><tspan class="lt"><tspan x="1224.35" textLength="22.59" lengthAdjust="spacingAndGlyphs">a</tspan><tspan x="1248.82" textLength="12.08" lengthAdjust="spacingAndGlyphs">f</tspan><tspan x="1262.49" textLength="11.87" lengthAdjust="spacingAndGlyphs">t</tspan><tspan x="1276.10" textLength="24.75" lengthAdjust="spacingAndGlyphs">e</tspan><tspan x="1300.90" textLength="13.98" lengthAdjust="spacingAndGlyphs">r</tspan></tspan><tspan class="yld"><tspan x="1328.09" textLength="22.75" lengthAdjust="spacingAndGlyphs">Y</tspan><tspan x="1351.38" textLength="23.44" lengthAdjust="spacingAndGlyphs">L</tspan><tspan x="1373.59" textLength="28.33" lengthAdjust="spacingAndGlyphs">D</tspan></tspan></text>
<text id="l-before" y="636"><tspan class="lt"><tspan x="697.83" textLength="24.27" lengthAdjust="spacingAndGlyphs">b</tspan><tspan x="721.82" textLength="24.90" lengthAdjust="spacingAndGlyphs">e</tspan><tspan x="747.81" textLength="12.27" lengthAdjust="spacingAndGlyphs">f</tspan><tspan x="759.85" textLength="24.30" lengthAdjust="spacingAndGlyphs">o</tspan><tspan x="785.06" textLength="13.89" lengthAdjust="spacingAndGlyphs">r</tspan><tspan x="797.61" textLength="25.38" lengthAdjust="spacingAndGlyphs">e</tspan></tspan><tspan class="yld"><tspan x="835.20" textLength="22.96" lengthAdjust="spacingAndGlyphs">Y</tspan><tspan x="858.41" textLength="23.62" lengthAdjust="spacingAndGlyphs">L</tspan><tspan x="880.79" textLength="28.33" lengthAdjust="spacingAndGlyphs">D</tspan></tspan></text>
</svg>
</body>
</html>
